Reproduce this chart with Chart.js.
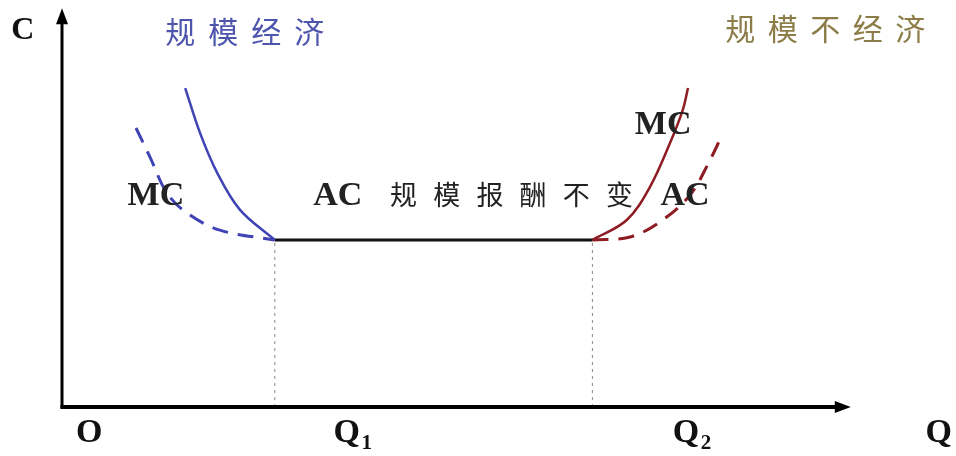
<!DOCTYPE html>
<html>
<head>
<meta charset="utf-8">
<script src="https://cdn.jsdelivr.net/npm/chart.js@4"></script>
<style>
  html, body { margin: 0; padding: 0; background: #fff; }
  #wrap { width: 956px; height: 456px; }
</style>
</head>
<body>
<div id="wrap"><canvas id="costChart" width="956" height="456"></canvas></div>
<script>
// quantity / cost values (axis units 0..100)
const mcEconomyQ = [15.4, 17.25, 19.4, 22.25, 26.6];
const mcEconomyC = [84.6, 72.7, 62.1, 52.3, 44.3];
const acEconomyQ = [9.25, 11.0, 13.1, 15.6, 19.75, 26.6];
const acEconomyC = [74.0, 66.3, 56.8, 51.5, 46.9, 44.3];
const constantQ = [26.6, 66.3];
const constantC = [44.3, 44.3];
const mcDiseconomyQ = [66.3, 70.6, 73.5, 76.0, 77.6, 78.25];
const mcDiseconomyC = [44.3, 49.6, 58.4, 70.0, 78.8, 84.6];
const acDiseconomyQ = [66.3, 71.0, 74.75, 78.5, 81.0, 82.5];
const acDiseconomyC = [44.3, 45.1, 49.1, 56.2, 65.5, 72.1];
const q1 = 26.6;
const q2 = 66.3;
const minCost = 44.3;

function pts(xs, ys) {
    return xs.map((x, i) => ({ x: x, y: ys[i] }));
}

const blue = "#3f43b3";
const red = "#8e1c22";
const serif = "bold 34px 'Liberation Serif'";
const cjk = "'Noto Sans CJK SC'";

// text annotations: [text, q, c, colour, font, align, char step px]
const notes = [
    ["C", -4.9, 99.7, "#111", "bold 32px 'Liberation Serif'", "center", 0],
    ["规模经济", 12.9, 99.5, "#4d55ad", "30px " + cjk, "left", 43],
    ["规模不经济", 82.9, 100.5, "#8c7d48", "30px " + cjk, "left", 42.5],
    ["MC", 8.2, 56.0, "#222", serif, "left", 0],
    ["AC", 31.4, 56.0, "#222", serif, "left", 0],
    ["规模报酬不变", 41.0, 56.2, "#222", "27px " + cjk, "left", 43.2],
    ["MC", 71.6, 74.8, "#222", serif, "left", 0],
    ["AC", 74.8, 56.0, "#222", serif, "left", 0],
    ["O", 3.4, -6.9, "#111", serif, "center", 0],
    ["Q", 109.6, -6.9, "#111", serif, "center", 0]
];
const subLabels = [["Q", "1", 35.6], ["Q", "2", 78.0]];

const axesPlugin = {
    id: "axesPlugin",
    afterDraw(chart) {
        const ctx = chart.ctx;
        const xs = chart.scales.x;
        const ys = chart.scales.y;
        const ox = xs.getPixelForValue(0);
        const oy = ys.getPixelForValue(0);
        const xEnd = xs.getPixelForValue(98.6);
        const yEnd = ys.getPixelForValue(105.8);
        ctx.save();
        ctx.strokeStyle = "#000";
        ctx.fillStyle = "#000";
        // y axis
        ctx.lineWidth = 3;
        ctx.beginPath();
        ctx.moveTo(ox, oy + 1.5);
        ctx.lineTo(ox, yEnd + 10);
        ctx.stroke();
        ctx.beginPath();
        ctx.moveTo(ox, yEnd);
        ctx.lineTo(ox - 6, yEnd + 16);
        ctx.lineTo(ox + 6, yEnd + 16);
        ctx.closePath();
        ctx.fill();
        // x axis
        ctx.lineWidth = 4;
        ctx.beginPath();
        ctx.moveTo(ox - 1.5, oy);
        ctx.lineTo(xEnd - 10, oy);
        ctx.stroke();
        ctx.beginPath();
        ctx.moveTo(xEnd, oy);
        ctx.lineTo(xEnd - 16, oy - 6);
        ctx.lineTo(xEnd - 16, oy + 6);
        ctx.closePath();
        ctx.fill();

        ctx.textBaseline = "middle";
        notes.forEach(n => {
            ctx.font = n[4];
            ctx.fillStyle = n[3];
            ctx.textAlign = n[5];
            const px = xs.getPixelForValue(n[1]);
            const py = ys.getPixelForValue(n[2]);
            if (n[6]) {
                Array.from(n[0]).forEach((ch, i) => ctx.fillText(ch, px + i * n[6], py));
            } else {
                ctx.fillText(n[0], px, py);
            }
        });
        subLabels.forEach(s => {
            const px = xs.getPixelForValue(s[2]);
            const py = ys.getPixelForValue(-6.9);
            ctx.fillStyle = "#111";
            ctx.textAlign = "center";
            ctx.font = serif;
            ctx.fillText(s[0], px, py);
            ctx.font = "bold 21px 'Liberation Serif'";
            ctx.fillText(s[1], px + 20, py + 11);
        });
        ctx.restore();
    }
};

new Chart(document.getElementById("costChart"), {
    type: "scatter",
    data: {
        datasets: [
            { data: pts([q1, q1], [0, minCost]), borderColor: "#888", borderWidth: 1, borderDash: [3, 4] },
            { data: pts([q2, q2], [0, minCost]), borderColor: "#888", borderWidth: 1, borderDash: [3, 4] },
            { data: pts(mcEconomyQ, mcEconomyC), borderColor: blue, borderWidth: 2.5, tension: 0.35 },
            { data: pts(acEconomyQ, acEconomyC), borderColor: blue, borderWidth: 3, borderDash: [16, 10], tension: 0.35 },
            { data: pts(constantQ, constantC), borderColor: "#111", borderWidth: 3 },
            { data: pts(mcDiseconomyQ, mcDiseconomyC), borderColor: red, borderWidth: 2.5, tension: 0.35 },
            { data: pts(acDiseconomyQ, acDiseconomyC), borderColor: red, borderWidth: 3, borderDash: [16, 10], tension: 0.35 }
        ].map(d => Object.assign({ showLine: true, pointRadius: 0, fill: false }, d))
    },
    options: {
        responsive: false,
        animation: false,
        layout: { padding: { left: 62, right: 94, top: 30, bottom: 49 } },
        plugins: { legend: { display: false }, tooltip: { enabled: false } },
        scales: {
            x: { type: "linear", min: 0, max: 100, display: false },
            y: { type: "linear", min: 0, max: 100, display: false }
        }
    },
    plugins: [axesPlugin]
});
</script>
</body>
</html>
